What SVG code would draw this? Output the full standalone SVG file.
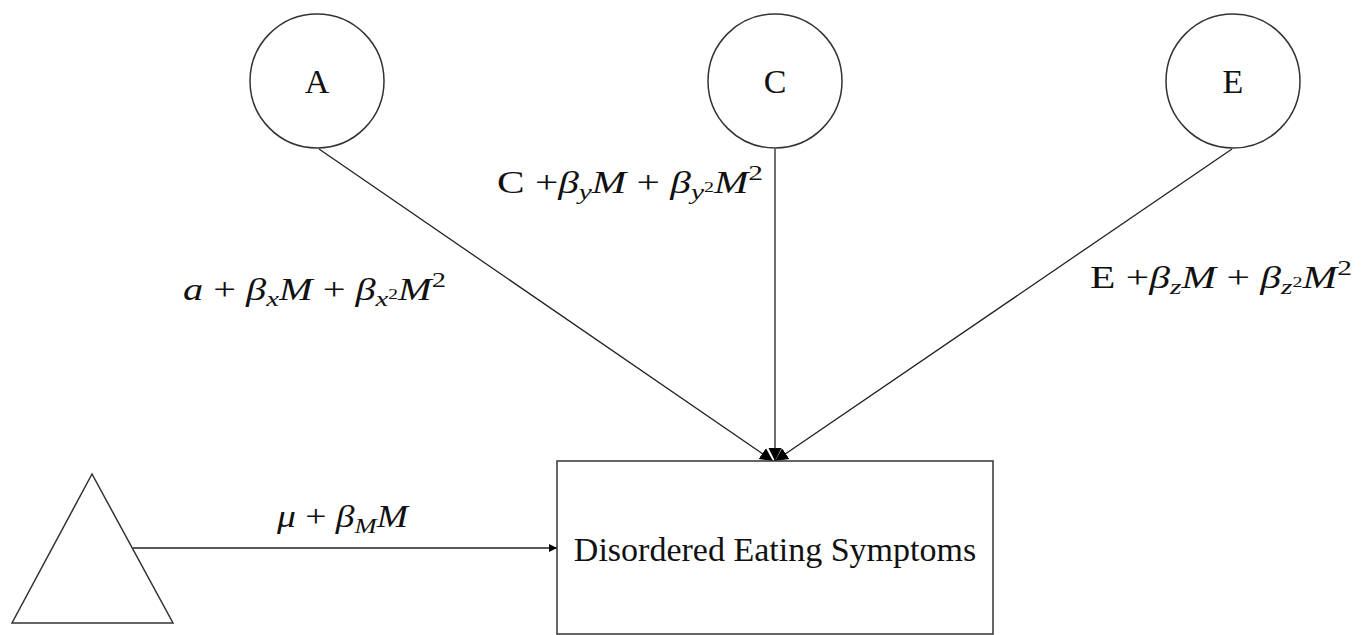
<svg xmlns="http://www.w3.org/2000/svg" width="1368" height="635" viewBox="0 0 1368 635">
<style>
.shape{fill:#fff;stroke:#333;stroke-width:1.5}
.conn{stroke:#222;stroke-width:1.3;fill:none}
.lbl{font-family:"Liberation Serif","Times New Roman",serif;font-size:34px;fill:#111}
.math{font-family:"Liberation Serif","Times New Roman",serif;font-size:31px;fill:#111}
.i{font-style:italic}
.sub{font-size:22px}
.tiny{font-size:15px}
.sup{font-size:22px}
</style>
<defs>
<marker id="arr" viewBox="0 0 10 10" refX="10" refY="5" markerWidth="10" markerHeight="8" markerUnits="userSpaceOnUse" orient="auto">
<path d="M0,0 L10,5 L0,10 Z" fill="#000"/>
</marker>
<marker id="arrB" viewBox="0 0 10 10" refX="10" refY="5" markerWidth="13" markerHeight="16" markerUnits="userSpaceOnUse" orient="auto">
<path d="M0,0 L10,5 L0,10 Z" fill="#000"/>
</marker>
</defs>
<g id="connectors">
<line class="conn" x1="319" y1="149" x2="773" y2="461" marker-end="url(#arrB)"/>
<line class="conn" x1="775" y1="149" x2="775" y2="461" marker-end="url(#arrB)"/>
<line class="conn" x1="1232" y1="149" x2="775" y2="461" marker-end="url(#arrB)"/>
<line class="conn" x1="133" y1="548" x2="557" y2="548" marker-end="url(#arr)"/>
</g>
<g id="node-A">
<circle class="shape" cx="317" cy="81" r="67"/>
<text class="lbl" x="317" y="93" text-anchor="middle">A</text>
</g>
<g id="node-C">
<circle class="shape" cx="775" cy="81" r="67"/>
<text class="lbl" x="775" y="93" text-anchor="middle">C</text>
</g>
<g id="node-E">
<circle class="shape" cx="1233" cy="81" r="67"/>
<text class="lbl" x="1233" y="93" text-anchor="middle">E</text>
</g>
<g id="node-mean">
<polygon class="shape" points="92,474 12,623 173,623"/>
</g>
<g id="node-DES">
<rect class="shape" x="557" y="461" width="436" height="173"/>
<text class="lbl" x="775" y="561" text-anchor="middle">Disordered Eating Symptoms</text>
</g>
<g id="labels">
<text class="math" x="183" y="300" textLength="263" lengthAdjust="spacingAndGlyphs"><tspan class="i">a</tspan> + <tspan class="i">β</tspan><tspan class="i sub" dy="6">x</tspan><tspan class="i" dy="-6">M</tspan> +  <tspan class="i">β</tspan><tspan class="i sub" dy="6">x</tspan><tspan class="tiny" dy="-7">2</tspan><tspan class="i" dy="1">M</tspan><tspan class="sup" dy="-13">2</tspan></text>
<text class="math" x="497" y="193" textLength="266" lengthAdjust="spacingAndGlyphs">C +<tspan class="i">β</tspan><tspan class="i sub" dy="6">y</tspan><tspan class="i" dy="-6">M</tspan> +  <tspan class="i">β</tspan><tspan class="i sub" dy="6">y</tspan><tspan class="tiny" dy="-7">2</tspan><tspan class="i" dy="1">M</tspan><tspan class="sup" dy="-13">2</tspan></text>
<text class="math" x="1090" y="288" textLength="262" lengthAdjust="spacingAndGlyphs">E +<tspan class="i">β</tspan><tspan class="i sub" dy="6">z</tspan><tspan class="i" dy="-6">M</tspan> +  <tspan class="i">β</tspan><tspan class="i sub" dy="6">z</tspan><tspan class="tiny" dy="-7">2</tspan><tspan class="i" dy="1">M</tspan><tspan class="sup" dy="-13">2</tspan></text>
<text class="math" x="277" y="527" textLength="131" lengthAdjust="spacingAndGlyphs"><tspan class="i">μ</tspan> + <tspan class="i">β</tspan><tspan class="i sub" dy="6">M</tspan><tspan class="i" dy="-6">M</tspan></text>
</g>
</svg>
